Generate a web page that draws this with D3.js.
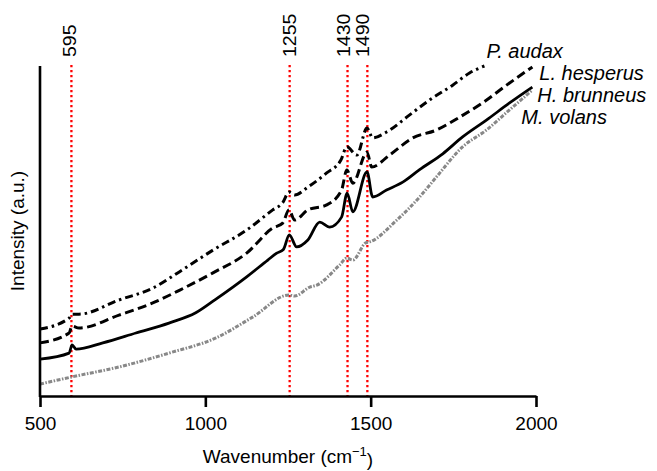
<!DOCTYPE html>
<html>
<head>
<meta charset="utf-8">
<script src="https://cdn.jsdelivr.net/npm/d3@7"></script>
<style>
  html, body { margin: 0; padding: 0; background: #fff; }
  svg text { font-family: 'Liberation Sans', Arial, sans-serif; fill: #000; }
</style>
</head>
<body>
<div id="chart"></div>
<script>
// spectra: [wavenumber, intensity (a.u., 0-100)]
const pAudax = [
  [500, 20.3], [588, 23.6], [597, 24.8], [618, 24.8], [739, 29.1], [841, 32.7],
  [930, 38.2], [1023, 44.2], [1125, 50.3], [1204, 56.4], [1234, 58.6], [1253, 61.8],
  [1270, 60.9], [1310, 63.3], [1367, 67.6], [1410, 71.5], [1428, 75.5], [1458, 73.0],
  [1489, 81.2], [1506, 78.2], [1548, 80.0], [1618, 85.2], [1678, 89.7], [1748, 94.2],
  [1799, 97.9], [1844, 100.0],
];
const lHesperus = [
  [500, 16.1], [588, 19.1], [597, 21.2], [618, 20.6], [739, 24.5], [841, 28.2],
  [923, 32.1], [1023, 37.3], [1125, 43.3], [1204, 50.9], [1234, 52.4], [1253, 56.4],
  [1270, 53.3], [1310, 56.4], [1367, 57.9], [1412, 62.4], [1428, 68.5], [1446, 64.5],
  [1489, 73.9], [1503, 69.4], [1557, 73.0], [1627, 78.2], [1699, 80.6], [1769, 84.5],
  [1838, 88.8], [1911, 94.2], [1989, 99.7],
];
const hBrunneus = [
  [500, 11.2], [588, 13.0], [597, 15.5], [609, 14.2], [690, 16.1], [790, 19.1],
  [890, 22.1], [971, 25.2], [1030, 29.2], [1125, 36.1], [1189, 41.2], [1216, 43.3],
  [1236, 44.4], [1254, 48.8], [1276, 45.2], [1310, 47.3], [1346, 52.7], [1376, 51.2],
  [1412, 54.2], [1429, 61.5], [1446, 55.8], [1489, 67.9], [1506, 60.3], [1548, 62.4],
  [1597, 64.8], [1648, 68.6], [1718, 73.4], [1778, 78.5], [1850, 83.6], [1920, 88.8],
  [1989, 93.6],
];
const mVolans = [
  [500, 3.6], [597, 5.8], [739, 8.8], [890, 13.0], [1032, 17.6], [1143, 23.9],
  [1253, 30.6], [1270, 30.3], [1316, 33.0], [1337, 33.6], [1406, 39.7], [1428, 41.8],
  [1446, 41.2], [1485, 46.4], [1497, 46.7], [1579, 53.3], [1648, 60.3], [1699, 66.4],
  [1778, 75.5], [1850, 80.6], [1920, 86.7], [1989, 92.7],
];

const seriesNames = ['P. audax', 'L. hesperus', 'H. brunneus', 'M. volans'];
const peaks = [595, 1255, 1430, 1490];
const xTicks = [500, 1000, 1500, 2000];

const width = 657;
const height = 471;
const margin = { top: 66, right: 121, bottom: 75, left: 40 };

const svg = d3.select('#chart').append('svg')
  .attr('width', width)
  .attr('height', height);

const x = d3.scaleLinear()
  .domain([500, 2000])
  .range([margin.left, width - margin.right]);

const y = d3.scaleLinear()
  .domain([0, 100])
  .range([height - margin.bottom, margin.top]);

const yBottom = y(0);

// red dotted guides for the bands
const peakShift = { 595: -2, 1255: 0, 1430: -4, 1490: -5 };
peaks.forEach((p) => {
  svg.append('line')
    .attr('x1', x(p)).attr('x2', x(p))
    .attr('y1', y(100) - 1).attr('y2', yBottom)
    .attr('stroke', '#ff0000')
    .attr('stroke-width', 2.3)
    .attr('stroke-dasharray', '2.2,2.8');

  svg.append('text')
    .attr('transform', `translate(${x(p) + peakShift[p]},${y(100) - 9}) rotate(-90) scale(1,0.9)`)
    .attr('dy', '0.35em')
    .style('font-size', '19.5px')
    .style('text-anchor', 'start')
    .text(p);
});

const line = d3.line()
  .x(d => x(d[0]))
  .y(d => y(d[1]))
  .curve(d3.curveMonotoneX);

const styles = [
  { data: pAudax, stroke: '#000', width: 3, dash: '8,4,2.5,4' },
  { data: lHesperus, stroke: '#000', width: 3, dash: '9,4.5' },
  { data: hBrunneus, stroke: '#000', width: 2.8, dash: null },
  { data: mVolans, stroke: '#888', width: 3, dash: '4,1.5,1.5,1.5' },
];

styles.forEach((s) => {
  svg.append('path')
    .datum(s.data)
    .attr('fill', 'none')
    .attr('stroke', s.stroke)
    .attr('stroke-width', s.width)
    .attr('stroke-linejoin', 'round')
    .attr('stroke-dasharray', s.dash)
    .attr('d', line);
});

// species labels next to line ends
const labelOffset = [[2, -15], [7, 6], [5, 8], [-11, 27]];
styles.forEach((s, i) => {
  const last = s.data[s.data.length - 1];
  svg.append('text')
    .attr('x', x(last[0]) + labelOffset[i][0])
    .attr('y', y(last[1]) + labelOffset[i][1])
    .attr('dy', '0.35em')
    .style('font-size', '20px')
    .style('font-style', 'italic')
    .text(seriesNames[i]);
});

// axes
const xAxis = svg.append('g')
  .attr('transform', `translate(0,${yBottom})`)
  .call(d3.axisBottom(x).tickValues(xTicks).tickSize(11).tickSizeOuter(0).tickPadding(10).tickFormat(d3.format('d')));

xAxis.select('.domain').attr('stroke', '#000').attr('stroke-width', 2.6);
xAxis.selectAll('.tick line').attr('stroke', '#000').attr('stroke-width', 2.6);
xAxis.selectAll('.tick text')
  .style('font-size', '19px')
  .style('font-family', "'Liberation Sans', Arial, sans-serif")
  .attr('fill', '#000');

svg.append('line')
  .attr('x1', margin.left).attr('x2', margin.left)
  .attr('y1', y(100)).attr('y2', yBottom + 1)
  .attr('stroke', '#000')
  .attr('stroke-width', 2.6);

const xTitle = svg.append('text')
  .attr('x', (x(500) + x(2000)) / 2)
  .attr('y', 463)
  .style('font-size', '19px')
  .style('text-anchor', 'middle');
xTitle.append('tspan').text('Wavenumber (cm');
xTitle.append('tspan').attr('dy', '-0.55em').style('font-size', '13px').text('\u22121');
xTitle.append('tspan').attr('dy', '0.55em').text(')');

svg.append('text')
  .attr('transform', `translate(17,${(y(0) + y(100)) / 2}) rotate(-90)`)
  .attr('dy', '0.35em')
  .style('font-size', '19px')
  .style('text-anchor', 'middle')
  .text('Intensity (a.u.)');
</script>
</body>
</html>
